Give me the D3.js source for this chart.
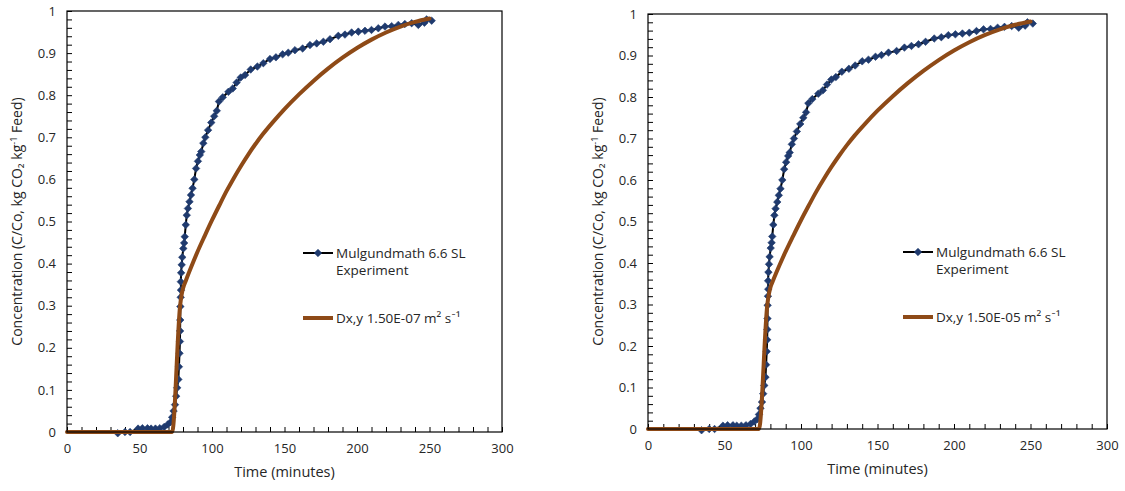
<!DOCTYPE html>
<html>
<head>
<meta charset="utf-8">
<script src="https://cdn.jsdelivr.net/npm/d3@7/dist/d3.min.js"></script>
<style>
  html, body { margin: 0; padding: 0; background: #fff; }
  svg { display: block; }
  text { font-family: "Open Sans", Lato, sans-serif; fill: #262626; }
</style>
</head>
<body>
<svg id="chart" width="1125" height="491"></svg>
<script>
// ---------- data ----------
const expTime = [35, 40, 43.5, 49, 52, 55.5, 58, 61, 64, 67, 69.5, 71.5, 72.5, 73.5, 74.5, 75.3, 76, 76.8, 77.2, 77.6, 77.9, 78, 78.1, 78.2, 78.4, 78.6, 78.5, 78.7, 79.1, 79.5, 80.2, 80.8, 81.2, 81.9, 82.6, 83.4, 84.5, 85.5, 86.6, 87.8, 89, 90.3, 91.6, 92.6, 94, 95.4, 97.3, 99.5, 101.5, 103.3, 104.8, 107.4, 111.3, 114.3, 117, 119.8, 122.8, 126.7, 131.3, 135.4, 140, 144.1, 148.7, 152.6, 157.2, 162.5, 167.6, 172.2, 176.8, 181.4, 187.1, 191.7, 196.3, 200.9, 205.5, 210, 214.7, 219.3, 223.9, 228.5, 233, 237.7, 242.3, 246.5, 248, 251.5];
const expConc = [-0.003, 0, 0, 0.008, 0.009, 0.009, 0.008, 0.008, 0.009, 0.012, 0.018, 0.024, 0.035, 0.05, 0.065, 0.085, 0.105, 0.125, 0.155, 0.187, 0.215, 0.24, 0.266, 0.298, 0.32, 0.337, 0.357, 0.378, 0.397, 0.415, 0.436, 0.449, 0.464, 0.492, 0.515, 0.531, 0.547, 0.563, 0.579, 0.6, 0.626, 0.643, 0.658, 0.666, 0.686, 0.7, 0.717, 0.735, 0.75, 0.763, 0.785, 0.795, 0.808, 0.816, 0.83, 0.842, 0.848, 0.861, 0.868, 0.876, 0.886, 0.89, 0.897, 0.901, 0.907, 0.911, 0.919, 0.923, 0.927, 0.933, 0.941, 0.944, 0.949, 0.951, 0.953, 0.955, 0.959, 0.963, 0.964, 0.967, 0.969, 0.971, 0.967, 0.972, 0.98, 0.977];

const modelTime = [0, 72.5, 78, 79, 80, 82, 86, 90, 95, 100, 105, 110, 115, 120, 125, 130, 135, 142, 150, 160, 170, 180, 190, 200, 210, 220, 230, 240, 250];
const modelConc = [0, 0, 0.3, 0.325, 0.341, 0.36, 0.395, 0.428, 0.466, 0.503, 0.538, 0.572, 0.603, 0.632, 0.659, 0.684, 0.707, 0.736, 0.767, 0.802, 0.834, 0.863, 0.889, 0.912, 0.932, 0.949, 0.963, 0.974, 0.982];

const xTickValues = [0, 50, 100, 150, 200, 250, 300];
const yTickValues = [0, 0.1, 0.2, 0.3, 0.4, 0.5, 0.6, 0.7, 0.8, 0.9, 1];
const expLabelLines = ["Mulgundmath 6.6 SL", "Experiment"];
const modelLabelsLeft = "Dx,y 1.50E-07 m² s⁻¹";
const modelLabelsRight = "Dx,y 1.50E-05 m² s⁻¹";
const xTitle = "Time (minutes)";

// ---------- drawing ----------
const svg = d3.select("#chart");
const NAVY = "#1F3A6E";
const BROWN = "#8E4A17";
const FONT = "'Open Sans', Lato, sans-serif";

function drawPanel(cfg) {
  const x = d3.scaleLinear().domain([0, 300]).range([cfg.left, cfg.right]);
  const y = d3.scaleLinear().domain([0, 1]).range([cfg.bottom, cfg.top]);
  const g = svg.append("g");

  // minor ticks (inward)
  const yMinor = d3.range(0, 1.0001, 0.02);
  const xMinor = d3.range(0, 300.001, 10);
  g.append("g").attr("transform", `translate(${cfg.left},0)`)
    .call(d3.axisRight(y).tickValues(yMinor).tickSize(5).tickFormat(""))
    .call(a => a.select(".domain").remove())
    .call(a => a.selectAll("line").attr("stroke", "#000"));
  g.append("g").attr("transform", `translate(0,${cfg.bottom})`)
    .call(d3.axisTop(x).tickValues(xMinor).tickSize(5).tickFormat(""))
    .call(a => a.select(".domain").remove())
    .call(a => a.selectAll("line").attr("stroke", "#000"));

  // tick labels
  g.append("g").attr("transform", `translate(${cfg.left},0)`)
    .call(d3.axisLeft(y).tickValues(yTickValues).tickSize(0).tickPadding(11).tickFormat(d3.format("~g")))
    .call(a => a.select(".domain").remove())
    .call(a => a.selectAll("text").attr("font-size", 13).attr("font-family", FONT).attr("fill", "#262626"));
  g.append("g").attr("transform", `translate(0,${cfg.bottom})`)
    .call(d3.axisBottom(x).tickValues(xTickValues).tickSize(0).tickPadding(12).tickFormat(d3.format("d")))
    .call(a => a.select(".domain").remove())
    .call(a => a.selectAll("text").attr("font-size", 13).attr("font-family", FONT).attr("fill", "#262626"));

  const line = d3.line().x(d => x(d[0])).y(d => y(d[1]));
  const expData = expTime.map((t, i) => [t, expConc[i]]);
  const modelData = modelTime.map((t, i) => [t, modelConc[i]]);

  const plot = g.append("g");
  plot.append("path").datum(expData).attr("d", line)
    .attr("fill", "none").attr("stroke", "#000").attr("stroke-width", 2);
  const diamond = d3.symbol().type(d3.symbolDiamond2).size(36);
  plot.selectAll("path.pt").data(expData).join("path")
    .attr("class", "pt")
    .attr("transform", d => `translate(${x(d[0])},${y(d[1])})`)
    .attr("d", diamond)
    .attr("fill", NAVY).attr("stroke", NAVY).attr("stroke-width", 0.6);
  plot.append("path").datum(modelData).attr("d", d3.line().x(d => x(d[0])).y(d => y(d[1])).curve(d3.curveMonotoneX))
    .attr("fill", "none").attr("stroke", BROWN).attr("stroke-width", 4).attr("stroke-linecap", "round").attr("stroke-linejoin", "round");

  // frame
  g.append("rect").attr("x", cfg.left).attr("y", cfg.top)
    .attr("width", cfg.right - cfg.left).attr("height", cfg.bottom - cfg.top)
    .attr("fill", "none").attr("stroke", "#000").attr("stroke-width", 1.2);

  // axis titles
  g.append("text").attr("x", (cfg.left + cfg.right) / 2).attr("y", cfg.xTitleY)
    .attr("text-anchor", "middle").attr("font-size", 14.5).text(xTitle);
  const yt = g.append("text")
    .attr("transform", `translate(${cfg.yTitleX},${(cfg.top + cfg.bottom) / 2}) rotate(-90)`)
    .attr("text-anchor", "middle").attr("font-size", 14);
  yt.append("tspan").text("Concentration (C/Co, kg CO₂ kg");
  yt.append("tspan").attr("font-size", 9).attr("dy", -5).text("-1");
  yt.append("tspan").attr("dy", 5).text(" Feed)");

  // legend
  const lx = cfg.legX, ly = cfg.legY;
  g.append("line").attr("x1", lx).attr("x2", lx + 30).attr("y1", ly).attr("y2", ly)
    .attr("stroke", "#000").attr("stroke-width", 2);
  g.append("path").attr("transform", `translate(${lx + 15},${ly})`).attr("d", diamond)
    .attr("fill", NAVY).attr("stroke", NAVY).attr("stroke-width", 0.6);
  const t1 = g.append("text").attr("x", lx + 33).attr("y", ly + 5).attr("font-size", 13.5);
  t1.append("tspan").text(expLabelLines[0]);
  t1.append("tspan").attr("x", lx + 33).attr("dy", 17).text(expLabelLines[1]);
  g.append("line").attr("x1", lx).attr("x2", lx + 30).attr("y1", ly + 65).attr("y2", ly + 65)
    .attr("stroke", BROWN).attr("stroke-width", 4);
  g.append("text").attr("x", lx + 33).attr("y", ly + 70).attr("font-size", 13.5).text(cfg.modelLabel);
}

drawPanel({id: 1, left: 67, right: 502, top: 11, bottom: 432, xTitleY: 477, yTitleX: 22, legX: 303, legY: 253, modelLabel: modelLabelsLeft});
drawPanel({id: 2, left: 648, right: 1107, top: 14, bottom: 429, xTitleY: 474, yTitleX: 603, legX: 903, legY: 252, modelLabel: modelLabelsRight});
</script>
</body>
</html>
